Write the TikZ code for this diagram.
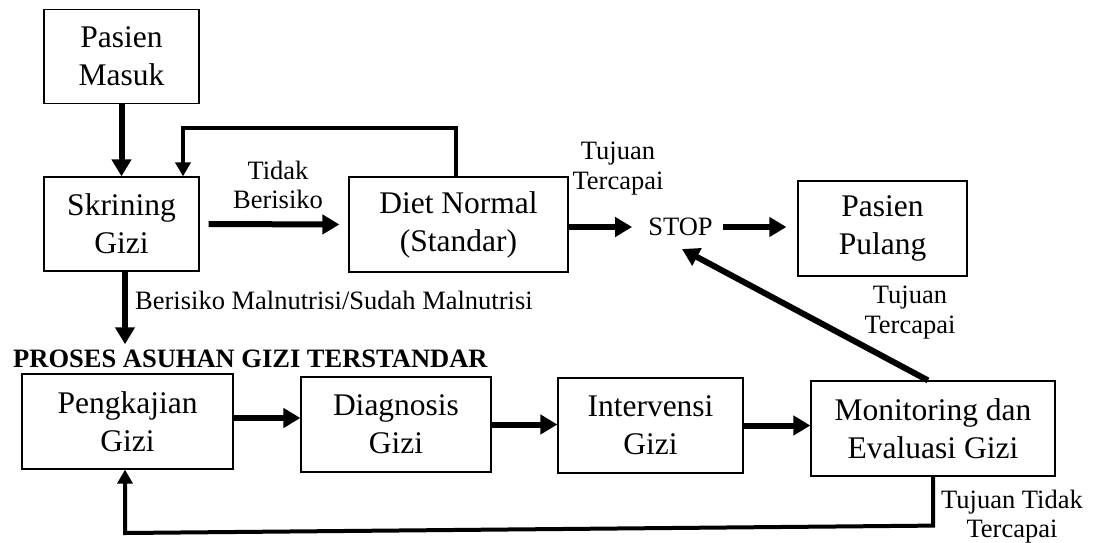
\documentclass[tikz,border=0pt]{standalone}
\usepackage{fontspec}
\setmainfont{Liberation Serif}
\usetikzlibrary{arrows.meta}
\tikzset{
  box/.style={draw, line width=1.2pt, inner sep=0pt, align=center,
    font={\fontsize{31.5}{38}\selectfont}},
  lab/.style={inner sep=0pt, align=center, font={\fontsize{26.5}{29.5}\selectfont}},
  thk/.style={line width=6pt, -{Triangle[length=17pt,width=19pt]}},
  fb/.style={line width=4pt, -{Triangle[length=14pt,width=15pt]}}
}
\begin{document}
\begin{tikzpicture}[x=1pt,y=-1pt]
\useasboundingbox (0,0) rectangle (1096,542);
% boxes
\node[box, minimum width=155pt, minimum height=94pt] (pm) at (121.5,56.5) {Pasien\\Masuk};
\node[box, minimum width=155pt, minimum height=94pt] (sg) at (121.5,224) {Skrining\\Gizi};
\node[box, minimum width=219pt, minimum height=95pt] (dn) at (458.5,224.5) {Diet Normal\\(Standar)};
\node[box, minimum width=169pt, minimum height=95pt] (pp) at (882.5,228.5) {Pasien\\Pulang};
\node[box, minimum width=211pt, minimum height=95pt] (pk) at (127.5,421.5) {Pengkajian\\Gizi};
\node[box, minimum width=190pt, minimum height=95pt] (dg) at (396,424.5) {Diagnosis\\Gizi};
\node[box, minimum width=185pt, minimum height=95pt] (iv) at (650.5,425.5) {Intervensi\\Gizi};
\node[box, minimum width=244pt, minimum height=95pt] (me) at (933,428.5) {Monitoring dan\\Evaluasi Gizi};
\node[lab] (stop) at (680.5,227) {STOP};
\node[inner sep=0pt, anchor=base west, font={\fontsize{26.5}{29}\selectfont\bfseries}] (head) at (13,367) {PROSES ASUHAN GIZI TERSTANDAR};
% labels
\node[lab] (l1) at (278,185) {Tidak\\Berisiko};
\node[lab] (l2) at (618,168.5) {Tujuan\\Tercapai};
\node[lab] (l3) at (910,312.5) {Tujuan\\Tercapai};
\node[lab] (l4) at (1012,516.5) {Tujuan Tidak\\Tercapai};
\node[inner sep=0pt, anchor=base west, font={\fontsize{26.5}{29}\selectfont}] (l5) at (135,309.5) {Berisiko Malnutrisi/Sudah Malnutrisi};
\coordinate (stoptip) at (682,249);
% connectors
\draw[thk] (pm.south) -- (sg.north);
\draw[fb] (456,0 |- dn.north) -- (456,128) -| (183,0 |- sg.north);
\draw[thk] ([xshift=9pt]sg.east) -- ([xshift=-9pt]dn.west);
\draw[thk] (dn.east |- stop) -- ([xshift=-16pt]stop.west);
\draw[thk] ([xshift=10pt]stop.east) -- ([xshift=-11pt]pp.west |- stop);
\draw[thk] (928,0 |- me.north) -- (stoptip);
\draw[thk, shorten >=5pt] (125,0 |- sg.south) -- (125,0 |- head.north);
\draw[thk] ([yshift=3.5pt]pk.east) -- ([yshift=3.5pt]pk.east -| dg.west);
\draw[thk] (dg.east) -- (dg.east -| iv.west);
\draw[thk] (iv.east) -- (iv.east -| me.west);
\draw[fb] (me.south) -- ++(0,49) -- (125,533) -- (125,0 |- pk.south);
\end{tikzpicture}
\end{document}
